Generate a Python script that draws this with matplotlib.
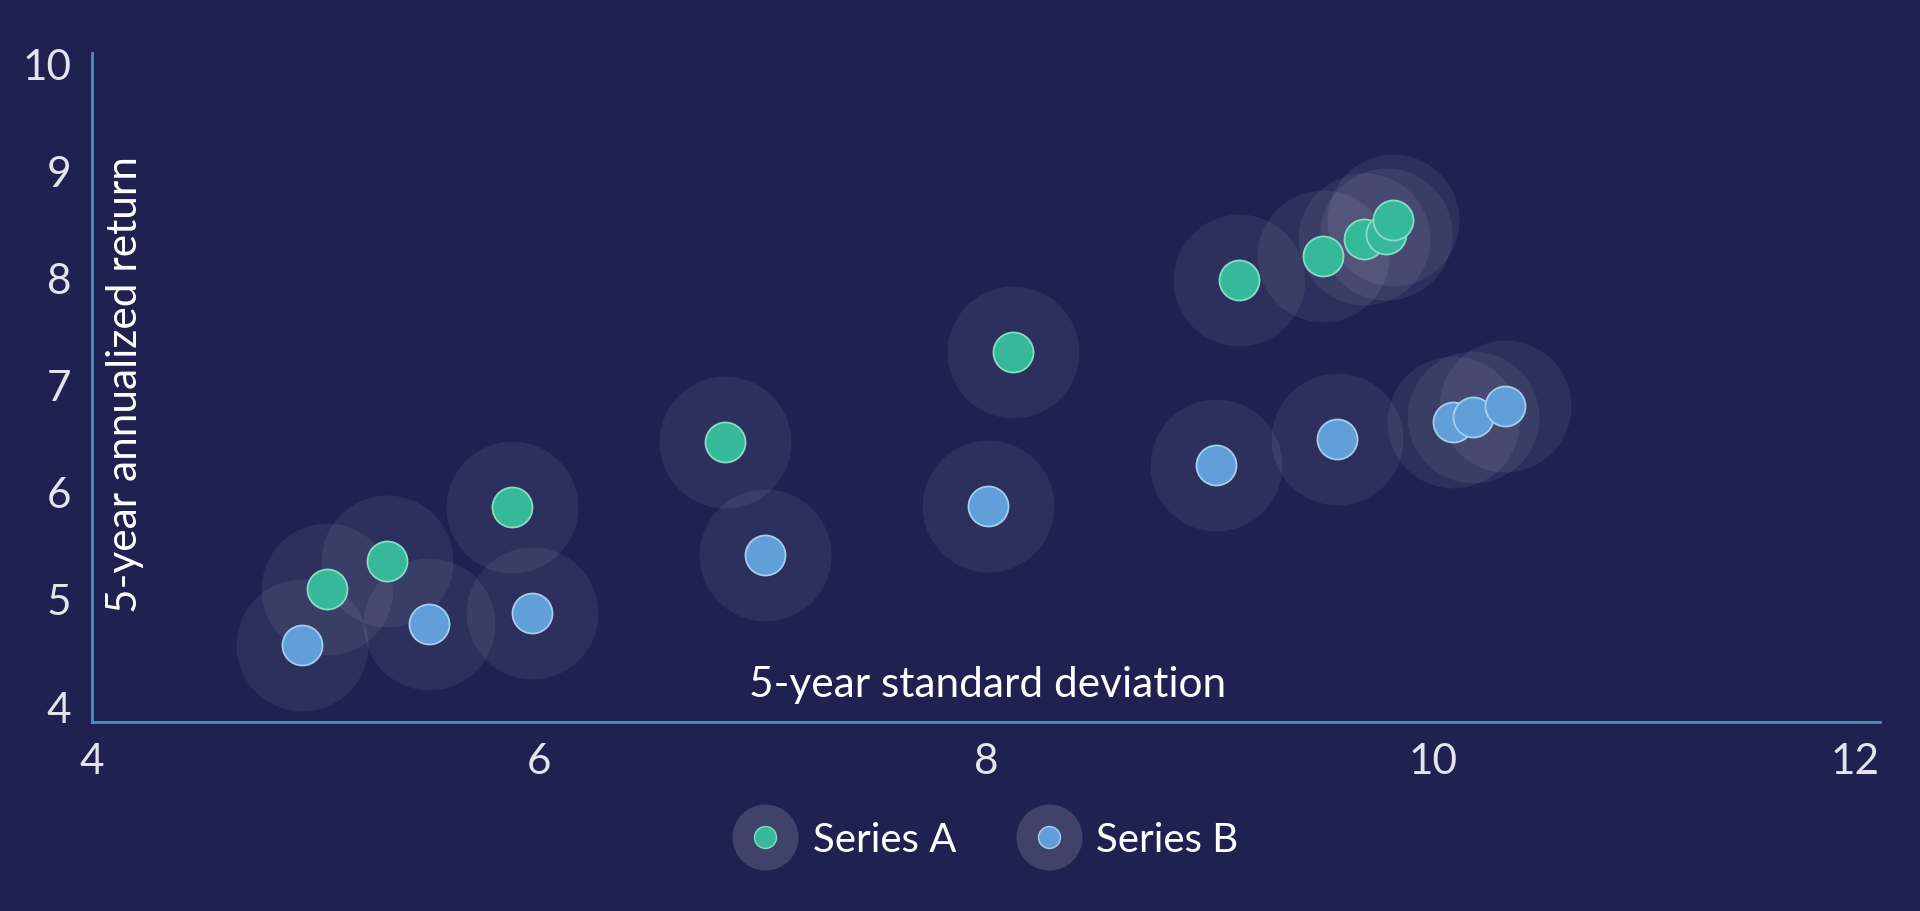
import matplotlib
matplotlib.use("Agg")
import matplotlib.pyplot as plt
from matplotlib.lines import Line2D
from matplotlib.legend_handler import HandlerTuple

# ---- data ----
series_a_x = [5.05, 5.32, 5.88, 6.83, 8.12, 9.13, 9.51, 9.69, 9.79, 9.82]
series_a_y = [5.10, 5.36, 5.87, 6.48, 7.32, 7.99, 8.21, 8.37, 8.42, 8.55]
series_b_x = [4.94, 5.51, 5.97, 7.01, 8.01, 9.03, 9.57, 10.09, 10.18, 10.32]
series_b_y = [4.58, 4.78, 4.88, 5.42, 5.88, 6.26, 6.50, 6.66, 6.71, 6.81]
series_names = ["Series A", "Series B"]
x_ticks = [4, 6, 8, 10, 12]
y_ticks = [4, 5, 6, 7, 8, 9, 10]
x_title = "5-year standard deviation"
y_title = "5-year annualized return"

# ---- style ----
BG = "#1f2251"
AXIS = "#4a8fc6"
TICK = "#e4e4ee"
GREEN = "#36b99b"
GREEN_EDGE = "#86dcc4"
BLUE = "#619fd8"
BLUE_EDGE = "#a6cdf0"
FONT = ["Lato", "DejaVu Sans"]
FS = 30.5
LFS = 29
plt.rcParams["font.family"] = FONT

fig = plt.figure(figsize=(19.2, 9.11), dpi=100, facecolor=BG)
ax = fig.add_axes([92 / 1920, 1 - 722 / 911, (1880 - 92) / 1920, (722 - 53) / 911])
ax.set_facecolor(BG)
ax.set_xlim(4, 12)
ax.set_ylim(3.86, 10.11)

HALO_S = 9000
DOT_S = 830

for xs, ys in ((series_a_x, series_a_y), (series_b_x, series_b_y)):
    ax.scatter(xs, ys, s=HALO_S, color="white", alpha=0.065, linewidths=0, zorder=2, clip_on=False)
ax.scatter(series_a_x, series_a_y, s=DOT_S, color=GREEN, edgecolors=GREEN_EDGE, linewidths=1.3, zorder=3, clip_on=False)
ax.scatter(series_b_x, series_b_y, s=DOT_S, color=BLUE, edgecolors=BLUE_EDGE, linewidths=1.3, zorder=3, clip_on=False)

for side in ("top", "right"):
    ax.spines[side].set_visible(False)
for side in ("left", "bottom"):
    ax.spines[side].set_color(AXIS)
    ax.spines[side].set_linewidth(2)

ax.set_xticks(x_ticks)
ax.set_yticks(y_ticks)
ax.set_xticklabels([str(t) for t in x_ticks])
ax.set_yticklabels([str(t) for t in y_ticks])
ax.tick_params(axis="both", length=0, labelsize=FS, labelcolor=TICK, pad=15)
last = ax.get_xticklabels()[-1]
last.set_horizontalalignment("right")

fig.text(988 / 1920, 1 - 697 / 911, x_title, ha="center", va="baseline",
         fontsize=FS, color="white")
fig.text(106 / 1920, 1 - 385 / 911, y_title, ha="left", va="center",
         rotation=90, fontsize=FS, color="white")

handles = []
for col, edge in ((GREEN, GREEN_EDGE), (BLUE, BLUE_EDGE)):
    halo = Line2D([], [], linestyle="none", marker="o", markersize=47.5,
                  markerfacecolor=(1, 1, 1, 0.15), markeredgewidth=0)
    dot = Line2D([], [], linestyle="none", marker="o", markersize=15.8,
                 markerfacecolor=col, markeredgecolor=edge, markeredgewidth=1.0)
    handles.append((halo, dot))
leg = fig.legend(handles, series_names, handler_map={tuple: HandlerTuple(ndivide=1, pad=0)},
                 loc="center", bbox_to_anchor=(985.5 / 1920, 1 - 840 / 911), ncol=2,
                 frameon=False, fontsize=LFS, handlelength=1.64, handletextpad=0.37,
                 columnspacing=1.46, borderaxespad=0, borderpad=0)
for t in leg.get_texts():
    t.set_color("white")

fig.savefig("out.png", dpi=100, facecolor=BG)
